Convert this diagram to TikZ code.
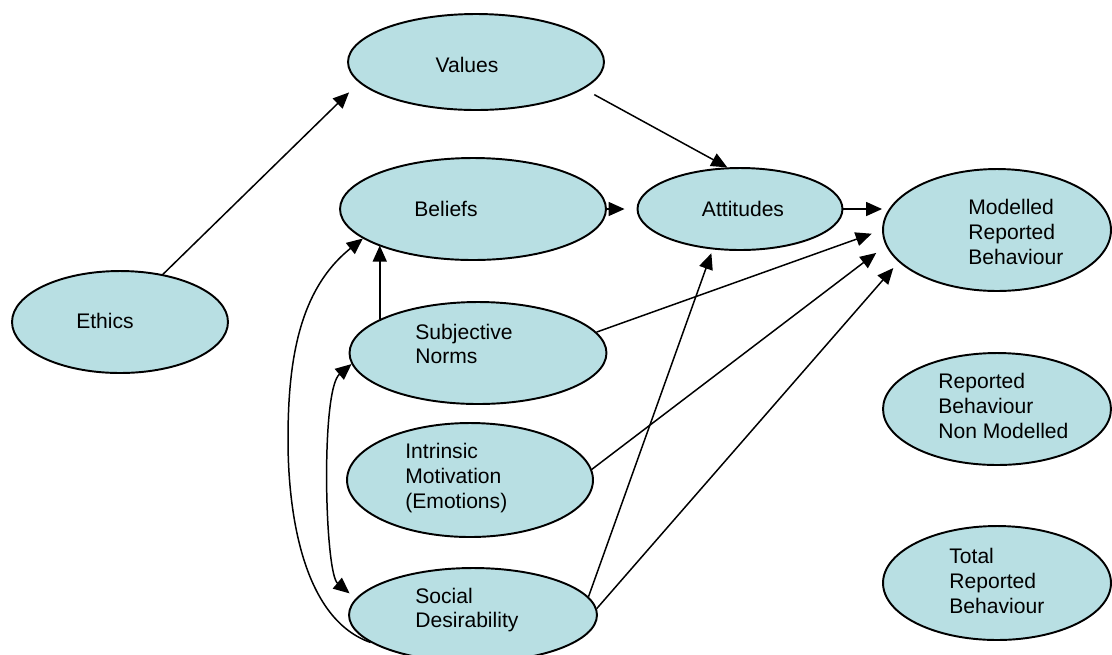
\documentclass[tikz,border=0pt]{standalone}
\usepackage{fontspec}
\setmainfont{Liberation Sans}
\usetikzlibrary{shapes.geometric,arrows.meta}
\definecolor{bubblefill}{RGB}{184,223,227}
\tikzset{
  bubble/.style={ellipse, draw, line width=1.1pt, fill=bubblefill, inner sep=0pt},
  lbl/.style={inner sep=0pt, align=left, font=\fontsize{12}{14}\selectfont},
  link/.style={line width=0.85pt}
}
\begin{document}
\begin{tikzpicture}[x=0.02cm, y=-0.02cm, >={Triangle[length=0.32cm,width=0.28cm]}]
        \useasboundingbox (0,0) rectangle (1112,654);

        % ellissi
        \node[bubble, minimum width=4.32cm, minimum height=2.04cm] (ethics) at (120,322) {};
        \node[bubble, minimum width=5.12cm, minimum height=1.92cm] (values) at (476,62) {};
        \node[bubble, minimum width=5.32cm, minimum height=2.04cm] (beliefs) at (473,209) {};
        \node[bubble, minimum width=4.10cm, minimum height=1.64cm] (attitudes) at (740,209) {};
        \node[bubble, minimum width=5.14cm, minimum height=2.04cm] (sn) at (478,353) {};
        \node[bubble, minimum width=4.92cm, minimum height=2.28cm] (im) at (470,480) {};
        \node[bubble, minimum width=4.96cm, minimum height=1.88cm] (sd) at (473,615) {};
        \node[bubble, minimum width=4.56cm, minimum height=2.44cm] (mrb) at (997,230) {};
        \node[bubble, minimum width=4.56cm, minimum height=2.24cm] (rbnm) at (997,409) {};
        \node[bubble, minimum width=4.56cm, minimum height=2.28cm] (trb) at (997,583) {};

        % testi
        \node[lbl] (ethicsT) at (105,321) {Ethics};
        \node[lbl] (valuesT) at (467,65) {Values};
        \node[lbl] (beliefsT) at (446,209) {Beliefs};
        \node[lbl] (attitudesT) at (743,209) {Attitudes};
        \node[lbl, anchor=west] (snT) at (415,344) {Subjective\\Norms};
        \node[lbl, anchor=west] (imT) at (405,478) {Intrinsic\\Motivation\\(Emotions)};
        \node[lbl, anchor=west] (sdT) at (415,610) {Social\\Desirability};
        \node[lbl, anchor=west] (mrbT) at (968,232) {Modelled\\Reported\\Behaviour};
        \node[lbl, anchor=west] (rbnmT) at (938,406) {Reported\\Behaviour\\Non Modelled};
        \node[lbl, anchor=west] (trbT) at (949,581) {Total\\Reported\\Behaviour};

        % frecce
        \draw[link, ->, shorten >=0.28cm] (ethics.48) -- (values.190);
        \draw[link, ->, shorten <=0.24cm] (values.-14) -- (attitudes.107);
        \draw[link, ->, shorten >=0.24cm] (beliefs.east) -- (attitudes.west);
        \draw[link, ->] (attitudes.east) -- (attitudes.east -| mrb.west);
        \draw[link, ->, shorten >=0.22cm] (sn.10) -- (mrb.west);
        \draw[link, ->] (sn.161.5) -- (sn.161.5 |- beliefs.201);
        \draw[link, ->, shorten >=0.24cm] (im.5) -- (mrb.188);
        \draw[link, ->, shorten >=0.08cm] (sd.9) -- (attitudes.236);
        \draw[link, ->, shorten >=0.16cm] (sd.3) -- (mrb.198);

        % archi a sinistra
        \coordinate (loopmid) at (288,440);
        \draw[link, ->] (sd.195) .. controls +(-77,-27) and (288,484) .. (loopmid)
              .. controls (288,364) and +(-65,52) .. (beliefs.195);
        \draw[link, <->, shorten >=0.16cm] (sn.185) .. controls +(-31,26) and +(-31,-26) .. (sd.172);
    \end{tikzpicture}
\end{document}
